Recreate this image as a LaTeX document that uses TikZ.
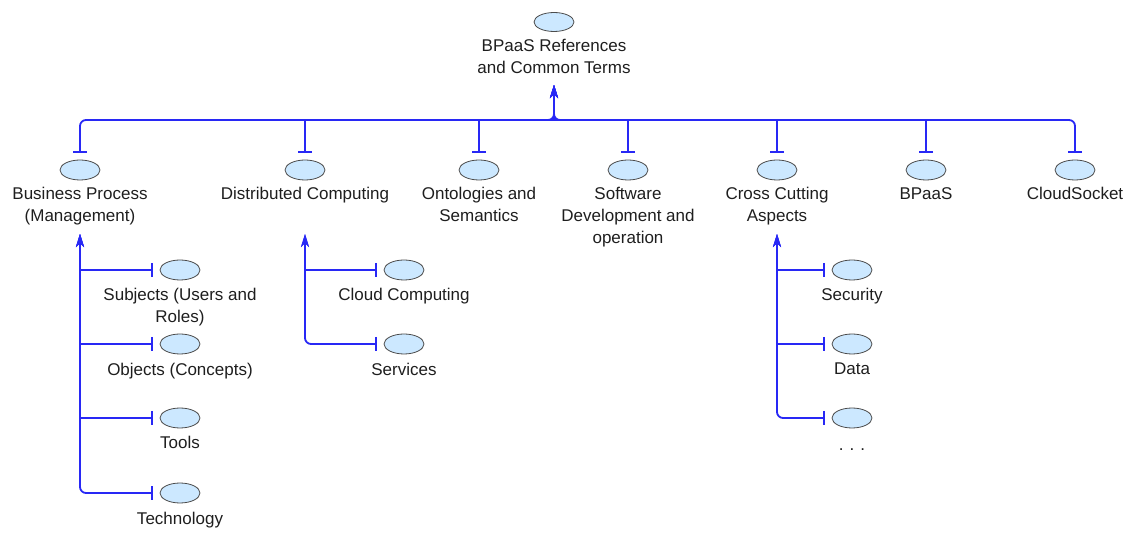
\documentclass[tikz,border=0pt]{standalone}
\usepackage{fontspec}
\setmainfont{Liberation Sans}
\usetikzlibrary{arrows.meta,shapes.geometric}
\definecolor{conncol}{RGB}{40,40,245}
\definecolor{ellfill}{RGB}{204,232,255}
\definecolor{txtcol}{RGB}{30,30,30}
\begin{document}
\begin{tikzpicture}[x=1pt,y=-1pt,
  ell/.style={ellipse, draw=black!70, fill=ellfill, minimum width=40pt, minimum height=20pt, inner sep=0pt, line width=0.8pt},
  lbl/.style={anchor=north, inner sep=0pt, align=center, text=txtcol, font=\fontsize{17}{22}\selectfont},
  conn/.style={draw=conncol, line width=1.8pt,
    {Bar[width=14pt]}-{Stealth[length=13pt,width=8pt,inset=4pt]}},
  endconn/.style={conn, rounded corners=6pt}]
\useasboundingbox (0,0) rectangle (1133,534);

% root
\node[ell, minimum width=40pt, minimum height=19pt] (root) at (554,22) {};
\node[lbl] (rootl) at (554,39) {BPaaS References\\and Common Terms};
\coordinate (roottip) at (554,85);
\coordinate (bus) at (554,120);

% first level
\node[ell] (bp) at (80,170) {};
\node[lbl] (bpl) at (80,187) {Business Process\\(Management)};
\node[ell] (dc) at (305,170) {};
\node[lbl] (dcl) at (305,187) {Distributed Computing};
\node[ell] (on) at (479,170) {};
\node[lbl] (onl) at (479,187) {Ontologies and\\Semantics};
\node[ell] (sw) at (628,170) {};
\node[lbl] (swl) at (628,187) {Software\\Development and\\operation};
\node[ell] (cc) at (777,170) {};
\node[lbl] (ccl) at (777,187) {Cross Cutting\\Aspects};
\node[ell] (bpaas) at (926,170) {};
\node[lbl] (bpaasl) at (926,187) {BPaaS};
\node[ell] (cs) at (1075,170) {};
\node[lbl] (csl) at (1075,187) {CloudSocket};

\foreach \n in {bp,cs}
  \draw[endconn] ([yshift=7pt]\n.north) |- (bus) -- (roottip);
\foreach \n in {dc,on,sw,cc,bpaas}
  \draw[conn] ([yshift=7pt]\n.north) |- (bus) -- (roottip);

% Business Process children
\coordinate (bptip) at (80,234);
\node[ell] (sub) at (180,270) {};
\node[lbl] (subl) at (180,288) {Subjects (Users and\\Roles)};
\node[ell] (obj) at (180,344) {};
\node[lbl] (objl) at (180,363) {Objects (Concepts)};
\node[ell] (tool) at (180,418) {};
\node[lbl] (tooll) at (180,436) {Tools};
\node[ell] (tech) at (180,493) {};
\node[lbl] (techl) at (180,512) {Technology};
\foreach \n in {sub,obj,tool}
  \draw[conn] ([xshift=-7pt]\n.west) -| (bptip);
\draw[endconn] ([xshift=-7pt]tech.west) -| (bptip);

% Distributed Computing children
\coordinate (dctip) at (305,234);
\node[ell] (cloud) at (404,270) {};
\node[lbl] (cloudl) at (404,288) {Cloud Computing};
\node[ell] (serv) at (404,344) {};
\node[lbl] (servl) at (404,363) {Services};
\draw[conn] ([xshift=-7pt]cloud.west) -| (dctip);
\draw[endconn] ([xshift=-7pt]serv.west) -| (dctip);

% Cross Cutting children
\coordinate (cctip) at (777,234);
\node[ell] (sec) at (852,270) {};
\node[lbl] (secl) at (852,288) {Security};
\node[ell] (data) at (852,344) {};
\node[lbl] (datal) at (852,363) {Data};
\node[ell] (more) at (852,418) {};
\node[lbl, anchor=base] (morel) at (852,451) {.\hspace{6pt}.\hspace{6pt}.};
\foreach \n in {sec,data}
  \draw[conn] ([xshift=-7pt]\n.west) -| (cctip);
\draw[endconn] ([xshift=-7pt]more.west) -| (cctip);
\end{tikzpicture}
\end{document}
